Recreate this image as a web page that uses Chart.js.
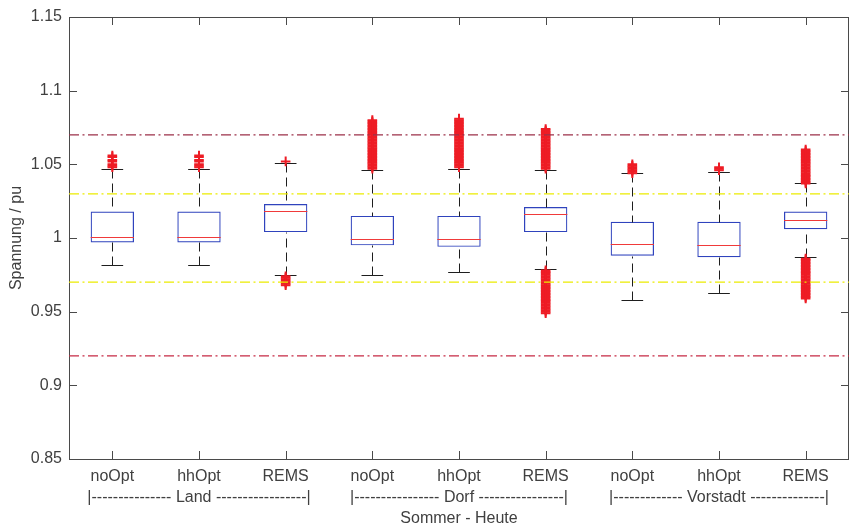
<!DOCTYPE html>
<html>
<head>
<meta charset="utf-8">
<title>Spannung – Sommer Heute</title>
<script src="https://cdn.jsdelivr.net/npm/chart.js@4.4.1/dist/chart.umd.min.js"></script>
<style>
  html,body{margin:0;padding:0;background:#fff}
  #wrap{width:850px;height:531px;position:relative}
</style>
</head>
<body>
<div id="wrap"><canvas id="voltageBox"></canvas></div>
<script>
/* ── DATA ────────────────────────────────────────────────── */
const cases      = ['noOpt','hhOpt','REMS','noOpt','hhOpt','REMS','noOpt','hhOpt','REMS'];
const groupNames = ['', '|--------------- Land -----------------|', '',
                    '', '|---------------- Dorf ----------------|', '',
                    '', '|------------- Vorstadt --------------|', ''];
const axisTitleX = 'Sommer - Heute';
const axisTitleY = 'Spannung / pu';

// box statistics per case (pu)
const whiskLo = [0.982, 0.982, 0.975, 0.975, 0.977, 0.979, 0.958, 0.963, 0.987];
const q1      = [0.997, 0.997, 1.004, 0.995, 0.994, 1.004, 0.988, 0.987, 1.006];
const median  = [1.001, 1.001, 1.018, 0.999, 0.999, 1.016, 0.996, 0.995, 1.012];
const q3      = [1.018, 1.018, 1.023, 1.015, 1.015, 1.021, 1.011, 1.011, 1.018];
const whiskHi = [1.047, 1.047, 1.051, 1.046, 1.047, 1.046, 1.044, 1.045, 1.037];

// outliers per case
const outliers = [
  [1.048, 1.049, 1.050, 1.052, 1.053, 1.055, 1.056],
  [1.048, 1.049, 1.050, 1.052, 1.053, 1.055, 1.056],
  [1.052,
   0.968, 0.969, 0.970, 0.971, 0.972, 0.973, 0.974],
  [1.047, 1.048, 1.049, 1.050, 1.051, 1.052, 1.053, 1.054, 1.055, 1.056, 1.057, 1.058,
   1.059, 1.060, 1.061, 1.062, 1.063, 1.064, 1.065, 1.066, 1.067, 1.068, 1.069, 1.070,
   1.071, 1.072, 1.073, 1.074, 1.075, 1.076, 1.077, 1.078, 1.079, 1.080],
  [1.048, 1.049, 1.050, 1.051, 1.052, 1.053, 1.054, 1.055, 1.056, 1.057, 1.058, 1.059,
   1.060, 1.061, 1.062, 1.063, 1.064, 1.065, 1.066, 1.067, 1.068, 1.069, 1.070, 1.071,
   1.072, 1.073, 1.074, 1.075, 1.076, 1.077, 1.078, 1.079, 1.080, 1.081],
  [1.047, 1.048, 1.049, 1.050, 1.051, 1.052, 1.053, 1.054, 1.055, 1.056, 1.057, 1.058,
   1.059, 1.060, 1.061, 1.062, 1.063, 1.064, 1.065, 1.066, 1.067, 1.068, 1.069, 1.070,
   1.071, 1.072, 1.073, 1.074,
   0.978, 0.977, 0.976, 0.975, 0.974, 0.973, 0.972, 0.971, 0.970, 0.969, 0.968, 0.967,
   0.966, 0.965, 0.964, 0.963, 0.962, 0.961, 0.960, 0.959, 0.958, 0.957, 0.956, 0.955,
   0.954, 0.953, 0.952, 0.951, 0.950, 0.949],
  [1.044, 1.045, 1.046, 1.047, 1.048, 1.049, 1.050],
  [1.046, 1.047, 1.048],
  [1.037, 1.038, 1.039, 1.040, 1.041, 1.042, 1.043, 1.044, 1.045, 1.046, 1.047, 1.048,
   1.049, 1.050, 1.051, 1.052, 1.053, 1.054, 1.055, 1.056, 1.057, 1.058, 1.059, 1.060,
   0.986, 0.985, 0.984, 0.983, 0.982, 0.981, 0.980, 0.979, 0.978, 0.977, 0.976, 0.975,
   0.974, 0.973, 0.972, 0.971, 0.970, 0.969, 0.968, 0.967, 0.966, 0.965, 0.964, 0.963,
   0.962, 0.961, 0.960, 0.959]
];

// voltage band limits
const limitValues = [1.07, 1.03, 0.97, 0.92];

const yMin = 0.85, yMax = 1.15, yStep = 0.05;

/* ── STYLE ───────────────────────────────────────────────── */
const FONT = '"Liberation Sans", Arial, Helvetica, sans-serif';
const TXT = '#404040';
const AXIS = '#4a4a4a';
const limitColors = ['#9c3049', '#ecec00', '#ecec00', '#c62a44'];

/* ── PLUGINS ─────────────────────────────────────────────── */
// frame with inward ticks on all four sides (MATLAB style)
const frame = {
  id: 'frame',
  beforeDatasetsDraw(chart){
    const {ctx, chartArea:a, scales:{x, y}} = chart;
    const tl = 8;
    ctx.save();
    ctx.strokeStyle = AXIS; ctx.lineWidth = 1;
    ctx.strokeRect(Math.round(a.left)+.5, Math.round(a.top)+.5, Math.round(a.right-a.left)-1, Math.round(a.bottom-a.top));
    ctx.beginPath();
    x.ticks.forEach(t=>{
      const px = Math.round(x.getPixelForValue(t.value))+.5;
      ctx.moveTo(px, a.bottom); ctx.lineTo(px, a.bottom-tl);
      ctx.moveTo(px, a.top);    ctx.lineTo(px, a.top+tl);
    });
    y.ticks.forEach(t=>{
      const py = Math.round(y.getPixelForValue(t.value))+.5;
      ctx.moveTo(a.left, py);  ctx.lineTo(a.left+tl, py);
      ctx.moveTo(a.right, py); ctx.lineTo(a.right-tl, py);
    });
    ctx.stroke();
    ctx.restore();
  }
};

// whiskers, caps and medians on top of the box dataset
const boxParts = {
  id: 'boxParts',
  afterDatasetDraw(chart, args){
    if(args.index !== 0) return;
    const {ctx, scales:{x, y}} = chart;
    ctx.save();
    cases.forEach((_, i)=>{
      const c  = i + 1;
      const cx = Math.round(x.getPixelForValue(c))+.5;
      const yp = v => Math.round(y.getPixelForValue(v))+.5;

      ctx.strokeStyle = '#1e1e1e'; ctx.lineWidth = 1;
      ctx.setLineDash([9,5]);
      ctx.beginPath();
      ctx.moveTo(cx, yp(whiskHi[i])); ctx.lineTo(cx, yp(q3[i]));
      ctx.moveTo(cx, yp(whiskLo[i])); ctx.lineTo(cx, yp(q1[i]));
      ctx.stroke();
      ctx.setLineDash([]);

      const capL = x.getPixelForValue(c-.125), capR = x.getPixelForValue(c+.125);
      ctx.beginPath();
      ctx.moveTo(capL, yp(whiskHi[i])); ctx.lineTo(capR, yp(whiskHi[i]));
      ctx.moveTo(capL, yp(whiskLo[i])); ctx.lineTo(capR, yp(whiskLo[i]));
      ctx.stroke();

      ctx.strokeStyle = '#f03a3a'; ctx.lineWidth = 1.2;
      ctx.beginPath();
      ctx.moveTo(x.getPixelForValue(c-.25), yp(median[i]));
      ctx.lineTo(x.getPixelForValue(c+.25), yp(median[i]));
      ctx.stroke();
    });
    ctx.restore();
  }
};

/* ── CHART ───────────────────────────────────────────────── */
const boxData = cases.map((_, i)=>({x:i+1, y:[q1[i], q3[i]]}));
const outlierData = outliers.flatMap((list, i)=>list.map(v=>({x:i+1, y:v})));
const limitSets = limitValues.map((v, i)=>({
  type:'line', label:'limit '+v, order:0,
  data:[{x:.5, y:v},{x:9.5, y:v}],
  borderColor:limitColors[i], borderWidth:1.3, borderDash:[10,3.5,2,3.5],
  pointRadius:0, fill:false
}));

new Chart(document.getElementById('voltageBox'), {
  type:'bar',
  data:{
    datasets:[
      { type:'bar', label:'box', order:3, data:boxData,
        backgroundColor:'rgba(0,0,0,0)', borderColor:'#2f43bd', borderWidth:1.2, borderSkipped:false,
        barPercentage:.5, categoryPercentage:1 },
      { type:'scatter', label:'outlier', order:2, data:outlierData,
        pointStyle:'cross', pointRadius:4.8, borderColor:'#ee1c25', borderWidth:2, showLine:false },
      ...limitSets
    ]
  },
  options:{
    responsive:true, maintainAspectRatio:false, animation:false, devicePixelRatio:1,
    layout:{autoPadding:false, padding:{top:17, right:1, left:0, bottom:0}},
    plugins:{legend:{display:false}, tooltip:{enabled:false}},
    scales:{
      x:{
        type:'linear', min:.5, max:9.5, offset:false,
        grid:{display:false, drawTicks:false}, border:{display:false},
        afterBuildTicks: s => { s.ticks = cases.map((_, i)=>({value:i+1})); },
        afterFit: s => { s.height = 72; s.paddingLeft = 0; s.paddingRight = 0; },
        ticks:{
          autoSkip:false, maxRotation:0, padding:7.5, color:TXT,
          font:{family:FONT, size:16, lineHeight:1.3125},
          callback:(v, i)=>[cases[i], groupNames[i]]
        },
        title:{display:true, text:axisTitleX, color:TXT, font:{family:FONT, size:16}, padding:{top:0, bottom:2.4}}
      },
      y:{
        min:yMin, max:yMax,
        grid:{display:false, drawTicks:false}, border:{display:false},
        afterFit: s => { s.width = 69; s.paddingTop = 0; s.paddingBottom = 0; },
        ticks:{
          stepSize:yStep, padding:7, color:TXT, font:{family:FONT, size:16},
          callback: v => String(Number(v.toFixed(2)))
        },
        title:{display:true, text:axisTitleY, color:TXT, font:{family:FONT, size:16}, padding:{top:7, bottom:0}}
      }
    }
  },
  plugins:[frame, boxParts]
});
</script>
</body>
</html>
